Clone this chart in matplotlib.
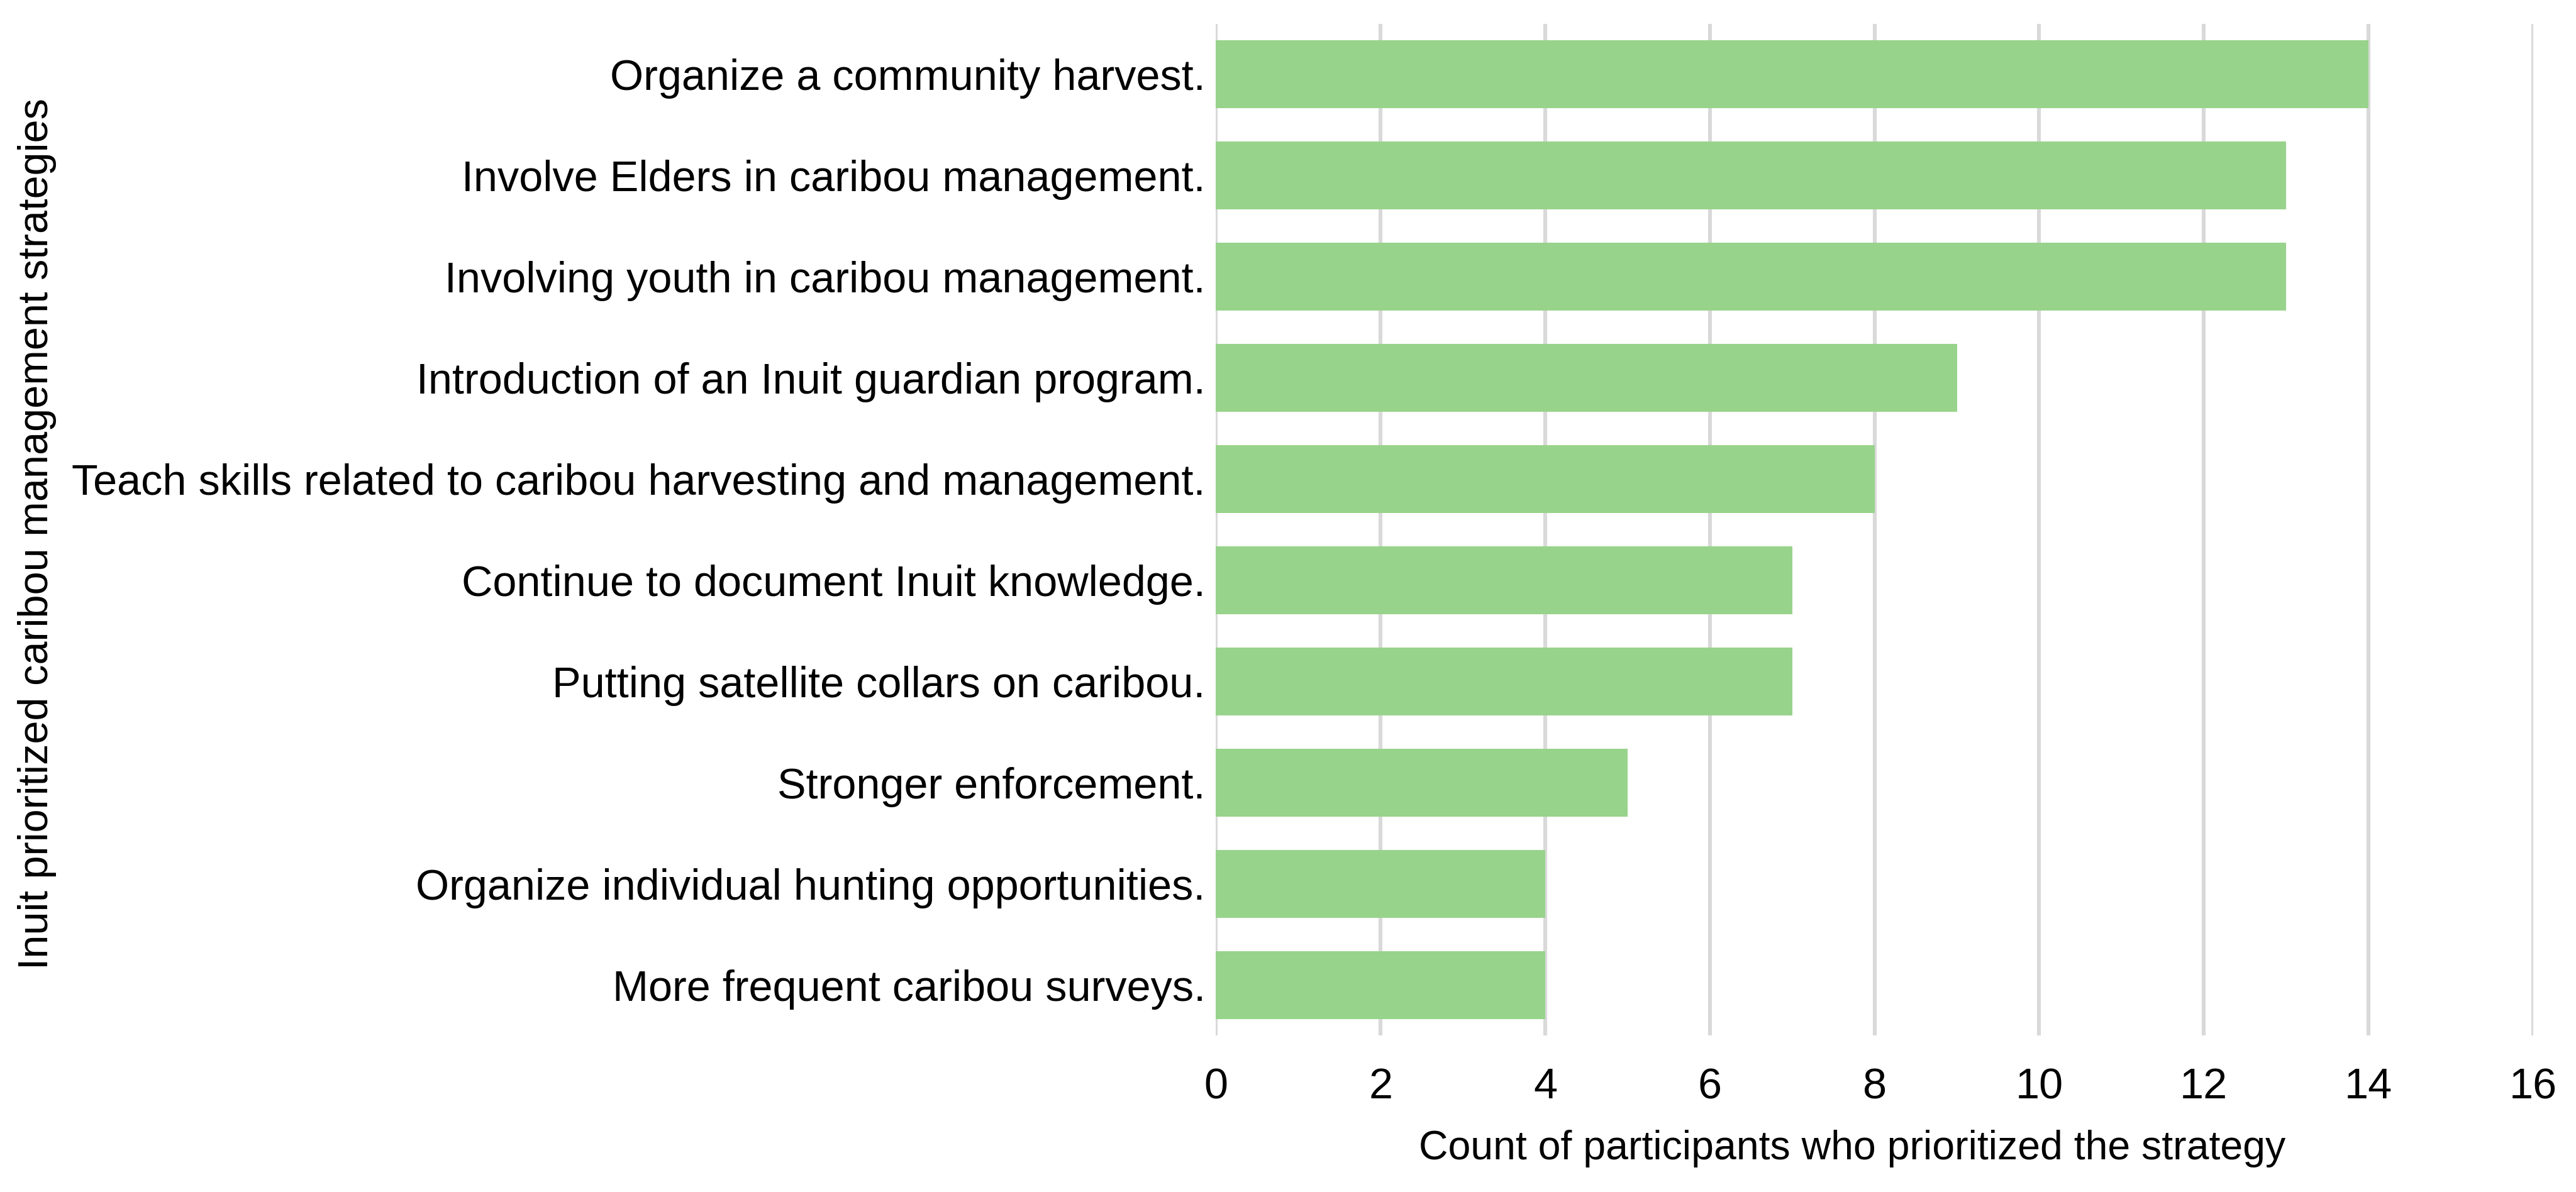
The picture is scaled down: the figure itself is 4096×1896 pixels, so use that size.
import matplotlib
matplotlib.use("Agg")
import matplotlib.pyplot as plt

categories = [
    "Organize a community harvest.",
    "Involve Elders in caribou management.",
    "Involving youth in caribou management.",
    "Introduction of an Inuit guardian program.",
    "Teach skills related to caribou harvesting and management.",
    "Continue to document Inuit knowledge.",
    "Putting satellite collars on caribou.",
    "Stronger enforcement.",
    "Organize individual hunting opportunities.",
    "More frequent caribou surveys.",
]
counts = [14, 13, 13, 9, 8, 7, 7, 5, 4, 4]
xticks = [0, 2, 4, 6, 8, 10, 12, 14, 16]

plt.rcParams['font.family'] = ['Liberation Sans', 'DejaVu Sans']
FS = 24.6

fig = plt.figure(figsize=(20.48, 9.48), dpi=200)
ax = fig.add_axes([0.472, 0.1313, 0.5114, 0.8487])

ypos = list(range(len(categories)))
ax.barh(ypos, counts, height=0.67, color="#98D38B", zorder=3)
ax.set_yticks(ypos)
ax.set_yticklabels(categories, fontsize=FS)
ax.set_ylim(len(categories) - 0.5, -0.5)
ax.set_xlim(0, 16)
ax.set_xticks(xticks)
ax.set_xticklabels([str(t) for t in xticks], fontsize=FS)
ax.tick_params(axis='both', length=0)
ax.tick_params(axis='x', pad=18)
ax.tick_params(axis='y', pad=6)
ax.grid(axis='x', color='#D9D9D9', linewidth=2.2, zorder=0)
ax.grid(axis='y', visible=False)
for s in ax.spines.values():
    s.set_visible(False)

ax.set_xlabel("Count of participants who prioritized the strategy", fontsize=23.2)
ax.xaxis.set_label_coords(0.483, -0.093)
ax.set_ylabel("Inuit prioritized caribou management strategies", fontsize=24.0)
ax.yaxis.set_label_coords(-0.9, 0.5)
ax.yaxis.label.set_transform(fig.transFigure)
ax.yaxis.label.set_position((90 / 4096, 1 - 849 / 1896))

fig.savefig("out.png", dpi=200)
